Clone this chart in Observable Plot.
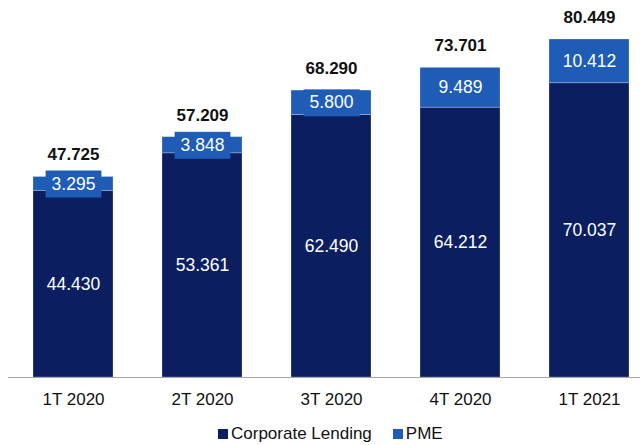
<!DOCTYPE html>
<html>
<head>
<meta charset="utf-8">
<script src="https://cdn.jsdelivr.net/npm/d3@7"></script>
<script src="https://cdn.jsdelivr.net/npm/@observablehq/plot@0.6"></script>
<style>
  body { margin: 0; background: #fff; font-family: Arial, "Liberation Sans", sans-serif; }
  #legend { display: flex; align-items: center; padding-left: 218px; font-size: 17px; color: #111; margin-top: 12px; }
  .item { display: flex; align-items: center; margin-right: 21px; }
  .sw { width: 10px; height: 10px; margin-right: 3px; }
</style>
</head>
<body>
<div id="chart"></div>
<div id="legend"></div>
<script>
const categories = ["1T 2020", "2T 2020", "3T 2020", "4T 2020", "1T 2021"];
const corporate = [44430, 53361, 62490, 64212, 70037];
const pme = [3295, 3848, 5800, 9489, 10412];
const totals = [47725, 57209, 68290, 73701, 80449];
const seriesNames = ["Corporate Lending", "PME"];
const seriesColors = ["#0b1f60", "#1f5cb6"];

const fmt = d3.formatLocale({decimal: ",", thousands: ".", grouping: [3], currency: ["R$", ""]}).format(",d");

const rows = [];
categories.forEach((c, i) => {
  rows.push({cat: c, series: seriesNames[0], value: corporate[i]});
  rows.push({cat: c, series: seriesNames[1], value: pme[i]});
});
const corpLabels = categories.map((c, i) => ({cat: c, mid: corporate[i] / 2, v: corporate[i]}));
const pmeLabels = categories.map((c, i) => ({cat: c, mid: corporate[i] + pme[i] / 2, v: pme[i]}));
const totalRows = categories.map((c, i) => ({cat: c, total: totals[i]}));

const chart = Plot.plot({
  width: 644,
  height: 412,
  marginTop: 39,
  marginBottom: 35,
  marginLeft: 8,
  marginRight: 4,
  style: {fontFamily: "Arial, 'Liberation Sans', sans-serif", background: "white"},
  x: {domain: categories, range: [8, 653.5], paddingInner: 0.38, paddingOuter: 0.19, label: null, tickSize: 0, tickPadding: 15},
  y: {domain: [0, 80449], axis: null},
  color: {domain: seriesNames, range: seriesColors},
  marks: [
    Plot.barY(rows, Plot.stackY({x: "cat", y: "value", fill: "series", stroke: "white", strokeOpacity: 0.3, strokeWidth: 0.8})),
    Plot.ruleY([0], {stroke: "#a6a6a6", strokeWidth: 1.2}),
    Plot.text(corpLabels, {x: "cat", y: "mid", text: d => fmt(d.v), fill: "white", fontSize: 17.5}),
    Plot.text(pmeLabels, {x: "cat", y: "mid", text: d => fmt(d.v), fill: "white", fontSize: 17.5}),
    Plot.text(totalRows, {x: "cat", y: "total", text: d => fmt(d.total), fill: "#111", fontSize: 17, fontWeight: "bold", dy: -22})
  ]
});
chart.querySelectorAll('[aria-label="x-axis tick label"], [aria-label="x-axis"]').forEach(g => {
  g.setAttribute("font-size", "17");
  g.setAttribute("fill", "#111");
});
document.getElementById("chart").appendChild(chart);

// label background boxes behind PME labels (second text mark)
const pmeTexts = new Set(pmeLabels.map(d => fmt(d.v)));
const ns = "http://www.w3.org/2000/svg";
const svgRect = chart.getBoundingClientRect();
let targetGroup = null;
const boxes = document.createElementNS(ns, "g");
chart.querySelectorAll("text").forEach(t => {
  if (!pmeTexts.has(t.textContent)) return;
  if (t.closest('[aria-label*="axis"]')) return;
  targetGroup = targetGroup || t.parentNode;
  const b = t.getBoundingClientRect();
  const r = document.createElementNS(ns, "rect");
  r.setAttribute("x", b.left - svgRect.left - 6);
  r.setAttribute("y", b.top - svgRect.top - 3);
  r.setAttribute("width", b.width + 12);
  r.setAttribute("height", b.height + 7);
  r.setAttribute("fill", seriesColors[1]);
  boxes.appendChild(r);
});
if (targetGroup) targetGroup.parentNode.insertBefore(boxes, targetGroup);

const legend = document.getElementById("legend");
seriesNames.forEach((s, i) => {
  const it = document.createElement("div");
  it.className = "item";
  const sw = document.createElement("span");
  sw.className = "sw";
  sw.style.background = seriesColors[i];
  it.appendChild(sw);
  it.appendChild(document.createTextNode(s));
  legend.appendChild(it);
});
</script>
</body>
</html>
